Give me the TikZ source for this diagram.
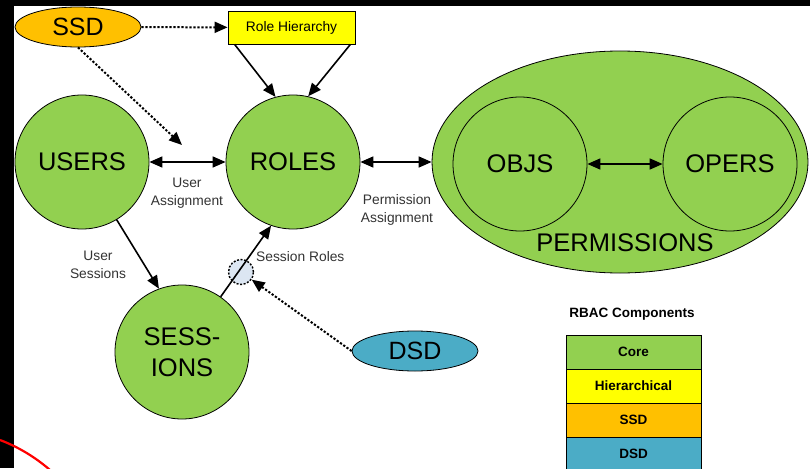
\documentclass[tikz,border=0pt]{standalone}
\usepackage{fontspec}
\setmainfont{Liberation Sans}
\usetikzlibrary{arrows.meta,calc,shapes.geometric}
\definecolor{coregreen}{HTML}{92D050}
\definecolor{hieryellow}{HTML}{FFFF00}
\definecolor{ssdorange}{HTML}{FFC000}
\definecolor{dsdblue}{HTML}{4BACC6}
\definecolor{srfill}{HTML}{DCE6F2}
\definecolor{labelgray}{HTML}{333333}
\tikzset{
  bigcircle/.style={circle,draw=black,line width=0.8pt,fill=coregreen,minimum size=134pt,inner sep=0pt,font=\fontsize{25.5}{31}\selectfont,align=center},
  innercircle/.style={circle,draw=black,line width=0.8pt,minimum size=134pt,inner sep=0pt,font=\fontsize{25.5}{31}\selectfont},
  oval/.style={ellipse,draw=black,line width=0.8pt,minimum width=126pt,minimum height=40pt,inner sep=0pt,font=\fontsize{25}{30}\selectfont},
  arr/.style={line width=1.6pt,-{Triangle[length=13pt,width=11pt]}},
  biarr/.style={line width=1.6pt,{Triangle[length=13pt,width=11pt]}-{Triangle[length=13pt,width=11pt]}},
  dotarr/.style={line width=2pt,dash pattern=on 2.2pt off 1.8pt,-{Triangle[length=13pt,width=11pt]}},
  smalllabel/.style={font=\fontsize{13.8}{18}\selectfont,text=labelgray,align=center,inner sep=0pt},
  legendrow/.style={draw=black,line width=0.8pt,minimum width=135pt,minimum height=34pt,inner sep=0pt,font=\bfseries\fontsize{13.5}{16}\selectfont}
}
\begin{document}
\begin{tikzpicture}[x=1pt,y=-1pt]
\useasboundingbox (0,0) rectangle (810,468);
\fill[white] (0,0) rectangle (810,468);
% frame bars
\fill[black] (0,0) rectangle (810,6);
\fill[black] (0,0) rectangle (14,468);

% nodes
\node[oval,fill=ssdorange] (ssd) at (78,27) {SSD};
\node[draw=black,line width=0.8pt,fill=hieryellow,minimum width=127pt,minimum height=33pt,inner sep=0pt,font=\fontsize{13.8}{16}\selectfont] (rh) at (291.5,27.5) {Role Hierarchy};
\node[bigcircle] (users) at (82,162) {USERS};
\node[bigcircle] (roles) at (293,162) {ROLES};
\node[bigcircle] (sessions) at (182,352) {SESS-\\IONS};
\node[ellipse,draw=black,line width=0.8pt,fill=coregreen,minimum width=376pt,minimum height=222pt,inner sep=0pt] (perm) at (620,162) {};
\node[innercircle] (objs) at (520,164) {OBJS};
\node[innercircle] (opers) at (730,164) {OPERS};
\node[font=\fontsize{25.5}{31}\selectfont,inner sep=0pt] (permlabel) at (625,243) {PERMISSIONS};
\node[oval,fill=dsdblue] (dsd) at (415,351) {DSD};
\node[circle,draw=black,line width=1.4pt,dash pattern=on 2pt off 1.6pt,fill=srfill,minimum size=25pt,inner sep=0pt] (sr) at (241,272) {};
\coordinate (ssdtip) at (182,145);

% labels
\node[smalllabel] (ualabel) at (187,193) {User\\Assignment};
\node[smalllabel] (palabel) at (397,210) {Permission\\Assignment};
\node[smalllabel] (uslabel) at (98,265) {User\\Sessions};
\node[smalllabel,anchor=west] (srlabel) at (256,257) {Session Roles};

% connectors
\draw[dotarr] (ssd) -- (rh);
\draw[dotarr] (ssd.south) -- (ssdtip);
\draw[arr] ([xshift=7pt]rh.south west) -- (roles.105);
\draw[arr] ([xshift=-5pt]rh.south east) -- (roles.77);
\draw[biarr] (users) -- (roles);
\draw[biarr] (roles) -- (perm);
\draw[biarr] (objs) -- (opers);
\draw[arr] (users.-59) -- (sessions.110);
\draw[arr] (sessions.55) -- (roles.-109);
\draw[dotarr] (dsd.west) -- (sr);

% legend
\node[font=\bfseries\fontsize{13.5}{16}\selectfont,inner sep=0pt] (legtitle) at (632,314) {RBAC Components};
\node[legendrow,fill=coregreen] (lcore) at (633.5,352) {Core};
\node[legendrow,fill=hieryellow] (lhier) at (633.5,386) {Hierarchical};
\node[legendrow,fill=ssdorange] (lssd) at (633.5,420) {SSD};
\node[legendrow,fill=dsdblue] (ldsd) at (633.5,454) {DSD};

% red stroke
\draw[red,line width=2.2pt] (0,440) .. controls (16,446) and (34,456) .. (50,470);
\end{tikzpicture}
\end{document}
